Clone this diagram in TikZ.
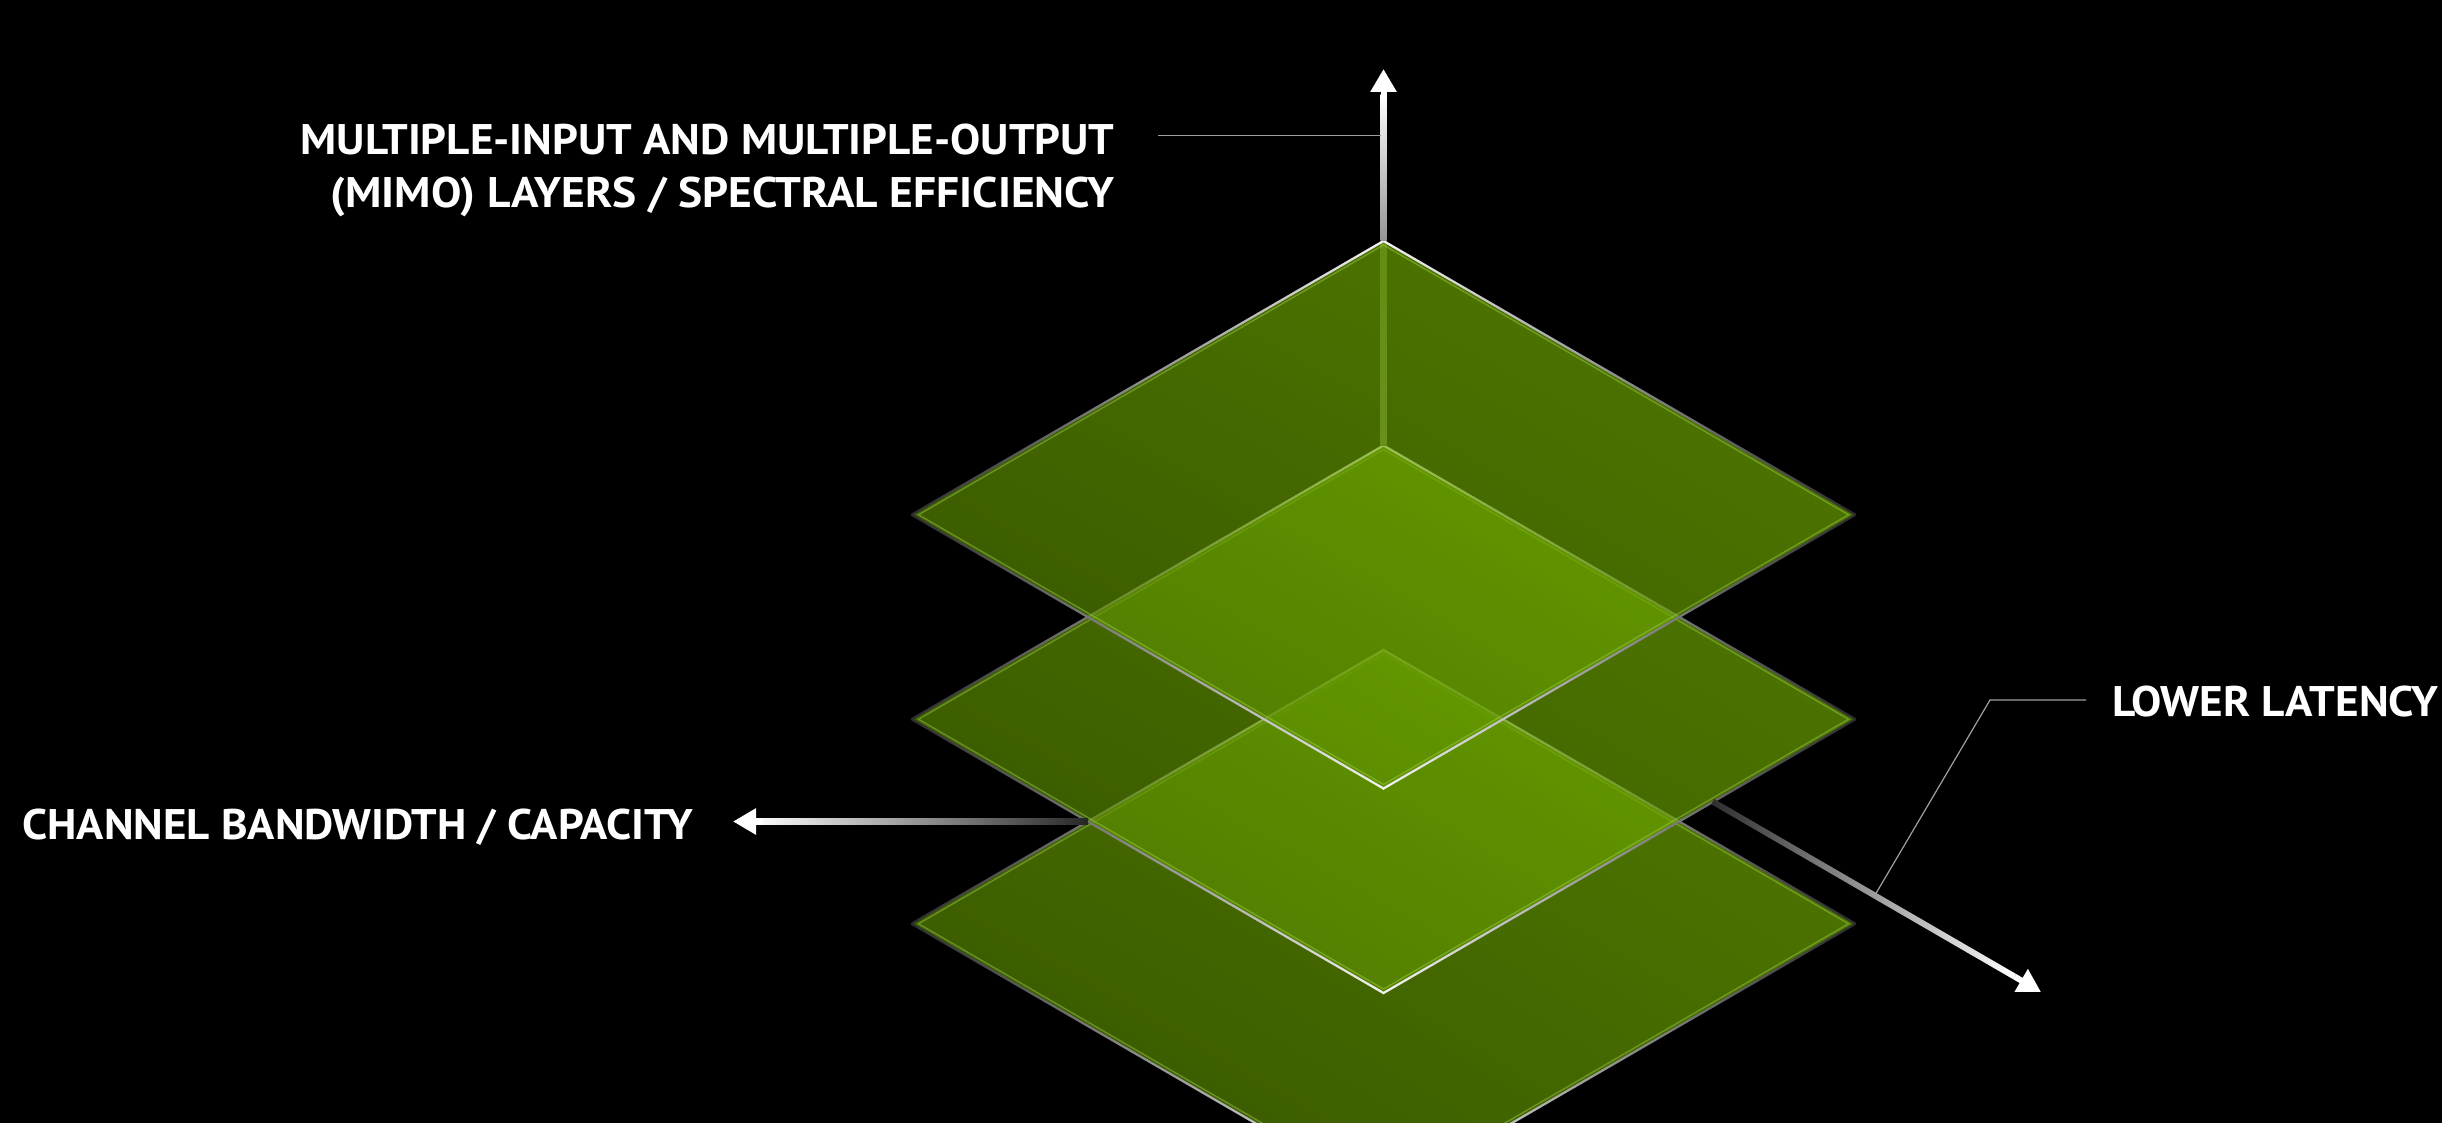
\documentclass[tikz,border=0pt]{standalone}
\usepackage{fontspec}
\usepackage{graphicx}
\newfontfamily\labelfont{PT Sans}
\usetikzlibrary{calc,arrows.meta,shadings}
\definecolor{fillLL}{RGB}{84,128,0}
\definecolor{fillUR}{RGB}{126,190,0}
\definecolor{fillMID}{RGB}{106,162,0}
\definecolor{edgelight}{RGB}{242,242,242}
\definecolor{edgedark}{RGB}{45,45,45}
\definecolor{innergreen}{RGB}{160,210,80}
\definecolor{leadergray}{RGB}{160,160,160}
\definecolor{axisinner}{RGB}{70,80,50}
\newsavebox\fitbox
\newcommand\fitto[2]{\sbox\fitbox{#2}\pgfmathsetmacro\fitr{#1/\the\wd\fitbox}\scalebox{\fitr}[1]{\usebox\fitbox}}
\newcommand\edgestrip[4]{\shade[left color=#3,right color=#4] ($(#1)+(0,-1.3)$) -- ($(#2)+(0,-1.3)$) -- ($(#2)+(0,1.3)$) -- ($(#1)+(0,1.3)$) -- cycle;}
\newcommand\drawlayer[1]{%
  \pgfmathsetmacro\yT{241+#1*204.5}%
  \pgfmathsetmacro\yM{\yT+273.75}%
  \pgfmathsetmacro\yB{\yT+547.5}%
  \coordinate (T#1) at (1383.5,\yT);
  \coordinate (L#1) at (911.5,\yM);
  \coordinate (R#1) at (1855.5,\yM);
  \coordinate (B#1) at (1383.5,\yB);
  \shade[layerfill] (T#1) -- (R#1) -- (B#1) -- (L#1) -- cycle;
  \draw[innerline] ($(T#1)+(0,4)$) -- ($(R#1)+(-7,0)$) -- ($(B#1)+(0,-4)$) -- ($(L#1)+(7,0)$) -- cycle;
  \edgestrip{L#1}{T#1}{edgedark}{edgelight}
  \edgestrip{T#1}{R#1}{edgelight}{edgedark}
  \edgestrip{L#1}{B#1}{edgedark}{edgelight}
  \edgestrip{B#1}{R#1}{edgelight}{edgedark}
}
\tikzset{
  layerfill/.style={fill opacity=0.65, lower left=fillLL, upper right=fillUR, upper left=fillMID, lower right=fillMID},
  innerline/.style={draw=innergreen, line width=0.7pt, draw opacity=0.45, line join=miter},
  lbl/.style={text=white, inner sep=0pt, font=\labelfont\bfseries\fontsize{21.4}{26}\selectfont},
  leader/.style={draw=leadergray, line width=0.75pt},
  headtip/.style={draw=white, line width=3pt, -{Triangle[length=11.5pt,width=12.5pt]}}
}
\begin{document}
\begin{tikzpicture}[x=0.5pt,y=-0.5pt]
\useasboundingbox (0,0) rectangle (2442,1123);
\fill[black] (0,0) rectangle (2442,1123);
\clip (0,0) rectangle (2442,1123);

% layers, bottom to top
\drawlayer{2}
\drawlayer{1}
% vertical axis seen through the top plane
\shade[top color=axisinner, bottom color=axisinner!85!white] (1380.5,241) rectangle (1386.5,445);
\drawlayer{0}

% vertical axis
\coordinate (vbase) at (1383.5,100);
\coordinate (vtip) at (1383.5,69);
\shade[top color=white, bottom color=white!58!black] (1380.5,95) rectangle (1386.5,241);
\draw[headtip] (vbase) -- (vtip);

% MIMO leader and label
\coordinate (mimoL) at (1158,135.5);
\coordinate (mimoR) at (1380.5,135.5);
\draw[leader] (mimoL) -- (mimoR);
\node[lbl, anchor=base east] (mimo1) at (1115,155) {\fitto{407pt}{MULTIPLE-INPUT AND MULTIPLE-OUTPUT}};
\node[lbl, anchor=base east] (mimo2) at (1115,208) {\fitto{392pt}{(MIMO) LAYERS / SPECTRAL EFFICIENCY}};

% channel bandwidth axis
\coordinate (cstart) at (1088,821.5);
\coordinate (cbase) at (762,821.5);
\coordinate (ctip) at (733,821.5);
\shade[left color=white, middle color=white!50!black, right color=white!15!black] (752,818.5) rectangle (1088,824.5);
\draw[headtip] (cbase) -- (ctip);
\node[lbl, anchor=base west] (chan) at (22,839) {\fitto{335.5pt}{CHANNEL BANDWIDTH / CAPACITY}};

% latency axis
\coordinate (lstart) at (1712.7,801.6);
\coordinate (lbase) at (2014.6,976.6);
\coordinate (ltip) at (2041,992);
\shade[left color=white!18!black, right color=white] ($(lstart)+(1.5,-2.6)$) -- ($(lbase)+(1.5,-2.6)$) -- ($(lbase)+(-1.5,2.6)$) -- ($(lstart)+(-1.5,2.6)$) -- cycle;
\draw[headtip] (lbase) -- (ltip);

% latency leader and label
\coordinate (latR) at (2086,700);
\coordinate (latK) at (1990,700);
\coordinate (latA) at (1875,895);
\draw[leader, line width=0.6pt, line join=miter] (latR) -- (latK) -- (latA);
\node[lbl, anchor=base west] (lat) at (2112,716) {\fitto{163pt}{LOWER LATENCY}};
\end{tikzpicture}
\end{document}
